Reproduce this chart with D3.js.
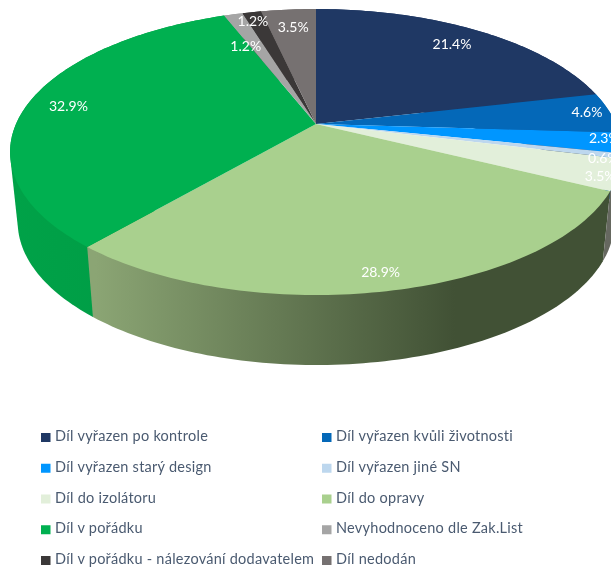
<!DOCTYPE html>
<html><head><meta charset="utf-8">
<script src="https://cdn.jsdelivr.net/npm/d3@7/dist/d3.min.js"></script>
<style>html,body{margin:0;padding:0;background:#fff;overflow:hidden}svg{display:block;filter:blur(.6px)}text{font-family:Lato,"Open Sans",sans-serif}</style>
</head><body><div id="chart"></div>
<script>
const categories=["Díl vyřazen po kontrole","Díl vyřazen kvůli životnosti","Díl vyřazen starý design","Díl vyřazen jiné SN","Díl do izolátoru","Díl do opravy","Díl v pořádku","Nevyhodnoceno dle Zak.List","Díl v pořádku - nálezování dodavatelem","Díl nedodán"];
const values=[21.4,4.6,2.3,0.6,3.5,28.9,32.9,1.2,1.2,3.5];
const colors=["#1f3864","#0468b8","#0096ff","#bdd7ee","#e2efda","#a9d08e","#00b050","#a5a5a5","#3b3838","#767171"];
const sideLeft=["#1f3864","#0468b8","#0096ff","#bdd7ee","#666860","#8ba574","#00a248","#a5a5a5","#3b3838","#767171"];
const sideRight=["#1f3864","#0468b8","#0096ff","#bdd7ee","#666860","#415135","#008a3c","#a5a5a5","#3b3838","#767171"];
const sideOrder=[0,1,2,3,9,8,7,6,5,4];
const labelRadius=[.82,.92,.92,.92,.92,.8,.8,.8,.8,.8];
const labelShift=[[0,0],[0,0],[8,-2],[7,6],[8,7],[8,22],[-17,1],[-2,14],[-10,-9],[0,-1]];
const W=611,H=569,cx=316,cy=124,bx=300,ay=137.5,k=.196,depth=70,inset=.975;
const svg=d3.select("#chart").append("svg").attr("width",W).attr("height",H);
const defs=svg.append("defs");
const pie=d3.pie().sort(null).value(d=>d);
const arcs=pie(values);
const sx=d3.scaleLinear().domain([0,1]).range([0,bx]);
const sy=d3.scaleLinear().domain([0,1]).range([0,ay]);
function proj(a,r,z){const u=Math.sin(a)*r,v=-Math.cos(a)*r,d=1-k*v,s=z?inset:1;return [cx+sx(u/d)*s,cy+sy(v/d)+(z?depth:0)];}
function samples(a){const n=Math.max(4,Math.ceil((a.endAngle-a.startAngle)/.02));return d3.range(n+1).map(i=>a.startAngle+(a.endAngle-a.startAngle)*i/n);}
const line=d3.line();
arcs.forEach((a,i)=>{const g=defs.append("linearGradient").attr("id","g"+i).attr("gradientUnits","userSpaceOnUse").attr("x1",i==5?95:10).attr("x2",i==5?455:611).attr("y1",0).attr("y2",0);
 g.append("stop").attr("offset",0).attr("stop-color",sideLeft[i]);g.append("stop").attr("offset",1).attr("stop-color",sideRight[i]);});
svg.append("g").selectAll("path").data(sideOrder.map(i=>arcs[i])).join("path")
 .attr("fill",d=>`url(#g${d.index})`)
 .attr("d",d=>{const s=samples(d);return line(d3.polygonHull(s.map(t=>proj(t,1,false)).concat(s.map(t=>proj(t,1,true)))))+"Z";});
svg.append("g").selectAll("path").data(arcs).join("path")
 .attr("fill",(d,i)=>colors[i])
 .attr("d",d=>{const s=samples(d);return line([proj(0,0,false)].concat(s.map(t=>proj(t,1,false))))+"Z";});
svg.append("g").selectAll("text").data(arcs).join("text")
 .attr("text-anchor","middle").attr("dominant-baseline","middle").attr("fill","#fff").attr("font-size",14)
 .attr("x",(d,i)=>proj((d.startAngle+d.endAngle)/2,labelRadius[i],false)[0]+labelShift[i][0])
 .attr("y",(d,i)=>proj((d.startAngle+d.endAngle)/2,labelRadius[i],false)[1]+labelShift[i][1])
 .text(d=>d.data.toFixed(1)+"%");
const colX=d3.scaleOrdinal().domain([0,1]).range([41,322]);
const rowY=d3.scalePoint().domain(d3.range(5)).range([437.5,560.5]);
const lg=svg.append("g").selectAll("g").data(categories).join("g")
 .attr("transform",(d,i)=>`translate(${colX(i%2)},${rowY(Math.floor(i/2))})`);
lg.append("rect").attr("x",0).attr("y",-4.5).attr("width",9.5).attr("height",9).attr("fill",(d,i)=>colors[i]);
lg.append("text").attr("x",14).attr("y",0).attr("dominant-baseline","middle").attr("fill","#4a5a70").attr("font-size",14.5).attr("letter-spacing",.25).text(d=>d);
</script></body></html>
